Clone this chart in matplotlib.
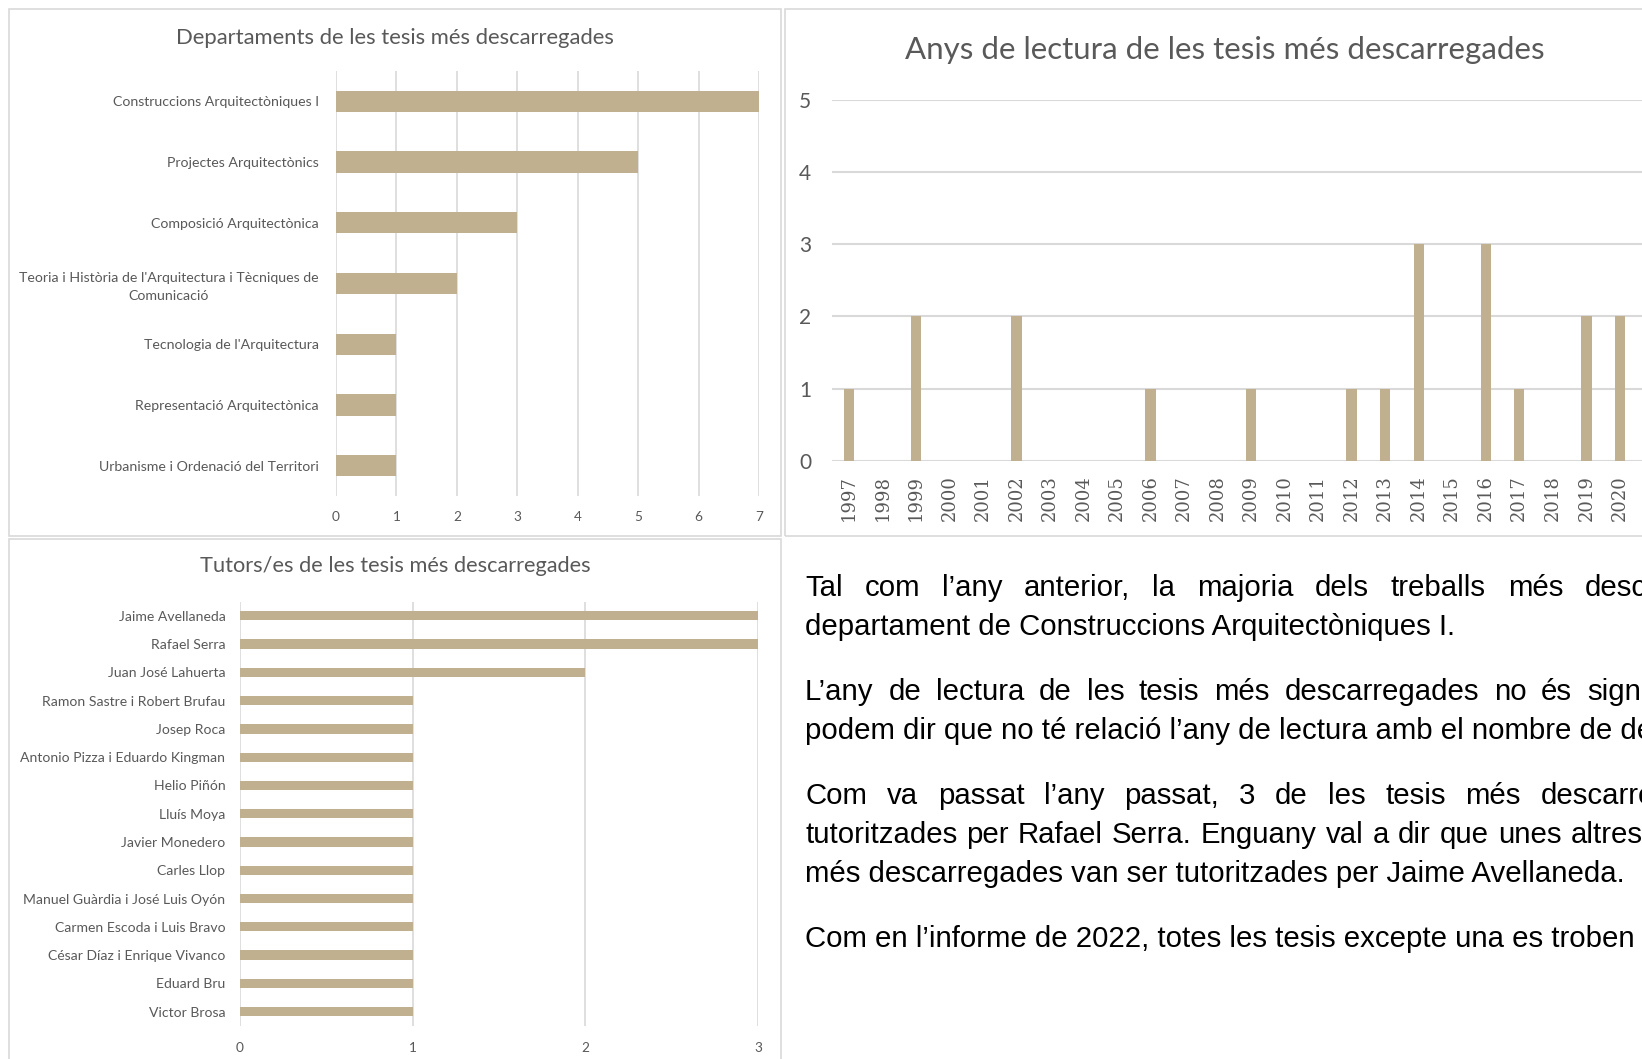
import matplotlib
matplotlib.use('Agg')
import matplotlib.pyplot as plt
from matplotlib.patches import Rectangle

# dades
departaments = ['Construccions Arquitectòniques I',
                'Projectes Arquitectònics',
                'Composició Arquitectònica',
                "Teoria i Història de l'Arquitectura i Tècniques de\nComunicació",
                "Tecnologia de l'Arquitectura",
                'Representació Arquitectònica',
                'Urbanisme i Ordenació del Territori']
tesis_dept = [7, 5, 3, 2, 1, 1, 1]

anys = ['1997', '1998', '1999', '2000', '2001', '2002', '2003', '2004',
        '2005', '2006', '2007', '2008', '2009', '2010', '2011', '2012',
        '2013', '2014', '2015', '2016', '2017', '2018', '2019', '2020']
tesis_any = [1, 0, 2, 0, 0, 2, 0, 0, 0, 1, 0, 0, 1, 0, 0, 1, 1, 3, 0, 3, 1, 0, 2, 2]

tutors = ['Jaime Avellaneda', 'Rafael Serra', 'Juan José Lahuerta',
          'Ramon Sastre i Robert Brufau', 'Josep Roca',
          'Antonio Pizza i Eduardo Kingman', 'Helio Piñón', 'Lluís Moya',
          'Javier Monedero', 'Carles Llop', 'Manuel Guàrdia i José Luis Oyón',
          'Carmen Escoda i Luis Bravo', 'César Díaz i Enrique Vivanco',
          'Eduard Bru', 'Victor Brosa']
tesis_tutor = [3, 3, 2, 1, 1, 1, 1, 1, 1, 1, 1, 1, 1, 1, 1]

text_lines = [
    'Tal com l’any anterior, la majoria dels treballs més descarregades',
    'departament de Construccions Arquitectòniques I.',
    'L’any de lectura de les tesis més descarregades no és significatiu',
    'podem dir que no té relació l’any de lectura amb el nombre de descàrregues.',
    'Com va passat l’any passat, 3 de les tesis més descarregades',
    'tutoritzades per Rafael Serra. Enguany val a dir que unes altres',
    'més descarregades van ser tutoritzades per Jaime Avellaneda.',
    'Com en l’informe de 2022, totes les tesis excepte una es troben en',
]

W, H = 1642, 1059
BAR = '#C0B08F'
GRID = '#D9D9D9'
TXT = '#595959'
SANS = ['Lato', 'DejaVu Sans']

def fx(px):
    return px / W

def fy(py):
    return 1 - py / H

fig = plt.figure(figsize=(W / 100, H / 100), dpi=100)
fig.patch.set_facecolor('white')

# marcs dels gràfics
for x0, y0, x1, y1 in [(8.5, 8.5, 781, 536), (785, 8.5, 1660, 536), (8.5, 539, 781, 1070)]:
    fig.add_artist(Rectangle((fx(x0), fy(y1)), fx(x1) - fx(x0), fy(y0) - fy(y1),
                             transform=fig.transFigure, fill=False,
                             edgecolor=GRID, lw=1.2))

def style(ax):
    for s in ax.spines.values():
        s.set_visible(False)
    ax.set_axisbelow(True)
    ax.tick_params(length=0, colors=TXT)

# Departaments
ax1 = fig.add_axes([fx(336), fy(496), fx(759) - fx(336), fy(71) - fy(496)])
ax1.barh(range(len(departaments)), tesis_dept, height=0.35, color=BAR)
ax1.set_ylim(len(departaments) - 0.5, -0.5)
ax1.set_xlim(0, 7)
ax1.set_xticks(range(0, 8))
ax1.set_yticks(range(len(departaments)))
ax1.set_yticklabels(departaments, family=SANS, fontsize=10.2, color=TXT,
                    multialignment='center', linespacing=1.6)
ax1.grid(axis='x', color=GRID, lw=1.2)
style(ax1)
ax1.tick_params(axis='y', pad=12.5)
ax1.tick_params(axis='x', pad=11, labelsize=9.8)
for l in ax1.get_xticklabels():
    l.set_family(SANS)
fig.text(fx(395), fy(38), 'Departaments de les tesis més descarregades',
         ha='center', va='center', family=SANS, fontsize=15.8, color=TXT)

# Anys de lectura
ax2 = fig.add_axes([fx(832), fy(461), fx(1642) - fx(832), fy(99.5) - fy(461)])
ax2.bar(range(len(anys)), tesis_any, width=0.31, color=BAR)
ax2.set_xlim(-0.5, 23.66)
ax2.set_ylim(0, 5)
ax2.set_xticks(range(len(anys)))
ax2.set_xticklabels(anys, rotation=90, family='DejaVu Serif', fontsize=13, color=TXT)
ax2.set_yticks(range(0, 6))
ax2.grid(axis='y', color=GRID, lw=1.5)
style(ax2)
ax2.tick_params(axis='x', pad=10)
ax2.tick_params(axis='y', pad=15, labelsize=15)
for l in ax2.get_yticklabels():
    l.set_family(SANS)
fig.text(fx(1225), fy(50), 'Anys de lectura de les tesis més descarregades',
         ha='center', va='center', family=SANS, fontsize=22.5, color=TXT)

# Tutors
ax3 = fig.add_axes([fx(240), fy(1025.7), fx(758) - fx(240), fy(601.7) - fy(1025.7)])
ax3.barh(range(len(tutors)), tesis_tutor, height=0.33, color=BAR)
ax3.set_ylim(len(tutors) - 0.5, -0.5)
ax3.set_xlim(0, 3)
ax3.set_xticks(range(0, 4))
ax3.set_yticks(range(len(tutors)))
ax3.set_yticklabels(tutors, family=SANS, fontsize=10.1, color=TXT)
ax3.grid(axis='x', color=GRID, lw=1.2)
style(ax3)
ax3.tick_params(axis='y', pad=10.5)
ax3.tick_params(axis='x', pad=12, labelsize=9.8)
for l in ax3.get_xticklabels():
    l.set_family(SANS)
fig.text(fx(395), fy(566.5), 'Tutors/es de les tesis més descarregades',
         ha='center', va='center', family=SANS, fontsize=15.7, color=TXT)

# text del document (línies justificades amb espai entre paraules fix per línia)
BODY = 21.12
baselines = [596, 634.8, 700.2, 739, 804.4, 843.2, 882, 947.4]
gaps = [21.8, None, 14.8, None, 19.8, 9.1, None, None]
r = fig.canvas.get_renderer()
for line, yb, gap in zip(text_lines, baselines, gaps):
    if gap is None:
        fig.text(fx(805), fy(yb), line, family='Liberation Sans', fontsize=BODY,
                 va='baseline', color='black')
        continue
    x = 805
    for w in line.split(' '):
        t = fig.text(fx(x), fy(yb), w, family='Liberation Sans', fontsize=BODY,
                     va='baseline', color='black')
        x += t.get_window_extent(r).width + gap

fig.savefig('out.png', dpi=100, facecolor='white')
